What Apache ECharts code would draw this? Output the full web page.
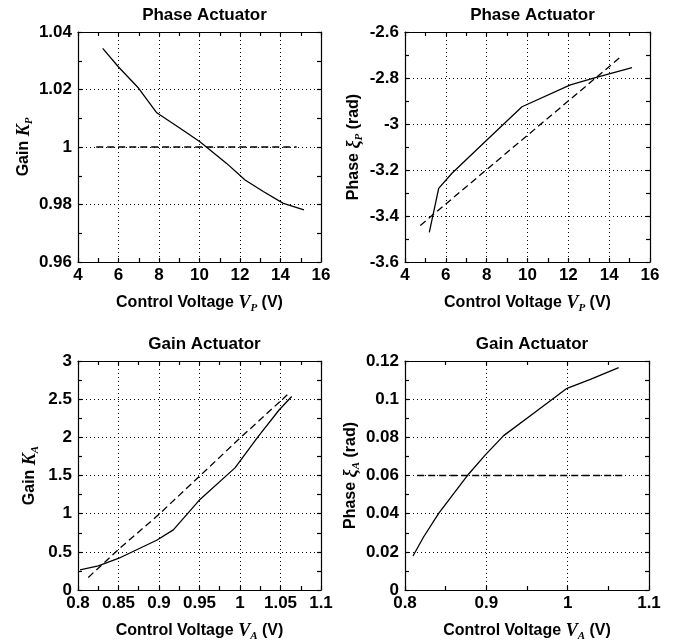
<!DOCTYPE html>
<html>
<head>
<meta charset="utf-8">
<script src="https://cdn.jsdelivr.net/npm/echarts@6/dist/echarts.min.js"></script>
<style>
  html, body { margin: 0; padding: 0; background: #fff; }
  #chart { width: 677px; height: 643px; }
</style>
</head>
<body>
<div id="chart"></div>
<script>
// Phase actuator: gain K_P versus control voltage V_P
var kpVolt = [5.22, 5.99, 6.95, 7.89, 9.04, 10.02, 10.43, 11.34, 12.25, 13.15, 14.14, 15.16];
var kpGain = [1.0343, 1.0279, 1.0208, 1.0119, 1.0065, 1.0018, 0.9995, 0.9943, 0.9885, 0.9845, 0.9804, 0.9781];
var kpNomVolt = [4.9, 14.8];
var kpNomGain = [1, 1];

// Phase actuator: phase xi_P versus control voltage V_P
var xpVolt = [5.19, 5.65, 6.30, 8.10, 9.73, 12.10, 13.24, 15.12];
var xpPhase = [-3.471, -3.280, -3.214, -3.062, -2.925, -2.830, -2.801, -2.755];
var xpFitVolt = [4.75, 14.54];
var xpFitPhase = [-3.441, -2.710];

// Gain actuator: gain K_A versus control voltage V_A
var kaVolt = [0.8025, 0.8251, 0.8498, 0.8971, 0.9177, 0.9506, 0.9938, 1.0226, 1.0485, 1.0638];
var kaGain = [0.265, 0.317, 0.413, 0.652, 0.787, 1.187, 1.600, 2.013, 2.361, 2.535];
var kaFitVolt = [0.8127, 0.85, 0.9, 0.95, 1.0, 1.0584];
var kaFitGain = [0.165, 0.532, 0.991, 1.491, 1.99, 2.557];

// Gain actuator: phase xi_A versus control voltage V_A
var xaVolt = [0.8098, 0.823, 0.8414, 0.8783, 0.8988, 0.9213, 0.9582, 0.9992, 1.0279, 1.0627];
var xaPhase = [0.0178, 0.0279, 0.0402, 0.0608, 0.0708, 0.0809, 0.0926, 0.1057, 0.1104, 0.1165];
var xaNomVolt = [0.815, 1.07];
var xaNomPhase = [0.06, 0.06];

// Axis ranges and tick steps
var titles = ['Phase Actuator', 'Phase Actuator', 'Gain Actuator', 'Gain Actuator'];
var xRanges = [[4, 16, 2], [4, 16, 2], [0.8, 1.1, 0.05], [0.8, 1.1, 0.1]];
var yRanges = [[0.96, 1.04, 0.02], [-3.6, -2.6, 0.2], [0, 3, 0.5], [0, 0.12, 0.02]];

var sansFont = 'Liberation Sans, Arial, Helvetica, sans-serif';
var serifFont = 'Liberation Serif, Times New Roman, serif';

var rich = {
  n: { fontFamily: sansFont, fontWeight: 'bold', fontSize: 16, color: '#000', lineHeight: 22, verticalAlign: 'middle' },
  i: { fontFamily: serifFont, fontStyle: 'italic', fontWeight: 'bold', fontSize: 18, color: '#000', lineHeight: 22, verticalAlign: 'middle' },
  s: { fontFamily: serifFont, fontStyle: 'italic', fontWeight: 'bold', fontSize: 11, color: '#000', lineHeight: 22, verticalAlign: 'bottom', padding: [6, 0, 0, 0] }
};

var xNames = [
  '{n|Control Voltage }{i|V}{s|P}{n| (V)}',
  '{n|Control Voltage }{i|V}{s|P}{n| (V)}',
  '{n|Control Voltage }{i|V}{s|A}{n| (V)}',
  '{n|Control Voltage }{i|V}{s|A}{n| (V)}'
];
var yNames = [
  '{n|Gain }{i|K}{s|P}',
  '{n|Phase }{i|ξ}{s|P}{n| (rad)}',
  '{n|Gain }{i|K}{s|A}',
  '{n|Phase }{i|ξ}{s|A}{n| (rad)}'
];

var grids = [
  { left: 78, top: 32, width: 243, height: 230 },
  { left: 405, top: 32, width: 245, height: 230 },
  { left: 78, top: 361, width: 243, height: 230 },
  { left: 405, top: 361, width: 244, height: 229 }
];

var axisLine = { show: true, onZero: false, lineStyle: { color: '#000', width: 1.2 } };
var tick = { show: true, inside: true, length: 4, lineStyle: { color: '#000', width: 1.2 } };
var minor = { show: true, splitNumber: 2, length: 4, lineStyle: { color: '#000', width: 1.2 } };
var gridLine = { show: true, lineStyle: { color: '#000', width: 1, type: [1, 3] } };
var labelStyle = { color: '#000', fontFamily: sansFont, fontWeight: 'bold', fontSize: 17 };

var xAxes = [], yAxes = [], series = [], titleList = [];

grids.forEach(function (g, k) {
  var xr = xRanges[k], yr = yRanges[k];
  xAxes.push({
    type: 'value', gridIndex: k, position: 'bottom',
    min: xr[0], max: xr[1], interval: xr[2],
    axisLine: axisLine, axisTick: tick, minorTick: minor, splitLine: gridLine,
    axisLabel: Object.assign({ margin: 5, showMinLabel: true, showMaxLabel: true }, labelStyle),
    name: xNames[k], nameLocation: 'middle', nameGap: 30,
    nameTextStyle: { rich: rich }
  });
  xAxes.push({
    type: 'value', gridIndex: k, position: 'top',
    min: xr[0], max: xr[1], interval: xr[2],
    axisLine: axisLine, axisTick: tick, minorTick: minor,
    splitLine: { show: false }, axisLabel: { show: false }
  });
  yAxes.push({
    type: 'value', gridIndex: k, position: 'left',
    min: yr[0], max: yr[1], interval: yr[2],
    axisLine: axisLine, axisTick: tick, minorTick: minor, splitLine: gridLine,
    axisLabel: Object.assign({ margin: 6 }, labelStyle),
    name: yNames[k], nameLocation: 'middle', nameGap: k % 2 === 0 ? 37 : 40, nameRotate: 90,
    nameTextStyle: { rich: rich }
  });
  yAxes.push({
    type: 'value', gridIndex: k, position: 'right',
    min: yr[0], max: yr[1], interval: yr[2],
    axisLine: axisLine, axisTick: tick, minorTick: minor,
    splitLine: { show: false }, axisLabel: { show: false }
  });
  titleList.push({
    text: titles[k],
    left: g.left + g.width / 2, top: g.top - 30, textAlign: 'center',
    textStyle: { fontFamily: sansFont, fontSize: 17, fontWeight: 'bold', color: '#000' }
  });
});

function pairs(xs, ys) {
  return xs.map(function (x, i) { return [x, ys[i]]; });
}

function addLine(k, xs, ys, dashed) {
  series.push({
    type: 'line', xAxisIndex: 2 * k, yAxisIndex: 2 * k,
    data: pairs(xs, ys), showSymbol: false, symbol: 'none', animation: false,
    lineStyle: { color: '#000', width: 1.3, type: dashed ? [7, 4] : 'solid' },
    z: dashed ? 3 : 4
  });
}

addLine(0, kpVolt, kpGain, false);
addLine(0, kpNomVolt, kpNomGain, true);
addLine(1, xpVolt, xpPhase, false);
addLine(1, xpFitVolt, xpFitPhase, true);
addLine(2, kaVolt, kaGain, false);
addLine(2, kaFitVolt, kaFitGain, true);
addLine(3, xaVolt, xaPhase, false);
addLine(3, xaNomVolt, xaNomPhase, true);

var chart = echarts.init(document.getElementById('chart'), null, { renderer: 'canvas' });
chart.setOption({
  backgroundColor: '#fff',
  animation: false,
  title: titleList,
  grid: grids,
  xAxis: xAxes,
  yAxis: yAxes,
  series: series
});
</script>
</body>
</html>
